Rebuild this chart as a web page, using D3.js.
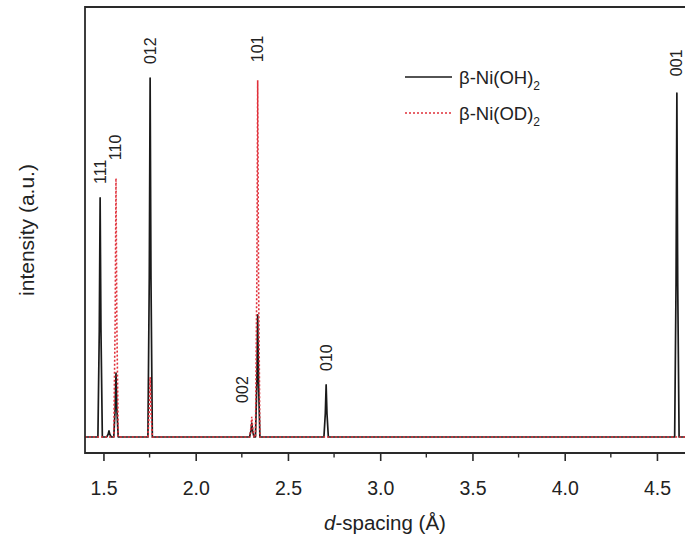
<!DOCTYPE html>
<html><head><meta charset="utf-8">
<script src="https://cdn.jsdelivr.net/npm/d3@7"></script>
<style>
body{margin:0;background:#fff;}
text{font-family:"Liberation Sans",Arial,sans-serif;fill:#222;}
</style></head>
<body><svg id="c" width="685" height="539"></svg>
<script>
// d-spacing (Å) of reflections and intensities (a.u.)
const hkl = ["111","110","012","002","101","010","001"];
const peakD = [1.482, 1.568, 1.753, 2.304, 2.336, 2.707, 4.608];
const ohIntensity = [66.6, 17.8, 100, 3.9, 34, 14.5, 95.8];
const odIntensity = [0, 72.1, 16.7, 5.6, 99.4, 0, 0];
const ohMinor = [[1.530, 1.7]];
const xTicks = [1.5, 2.0, 2.5, 3.0, 3.5, 4.0, 4.5];
const xMinor = [1.75, 2.25, 2.75, 3.25, 3.75, 4.25];
const labelPeakOf = ["oh","od","oh","od","od","oh","oh"];
const seriesNames = ["β-Ni(OH)", "β-Ni(OD)"];

const svg = d3.select("#c");
const L = 85, T = 7, B = 453;
const x = d3.scaleLinear().domain([1.4, 4.7]).range([L, L + 3.3 * 184.5]);
const y = d3.scaleLinear().domain([-4.46, 119.8]).range([B, T]);

const hw = 0.012;
function profile(peaks) {
  const pts = [[1.4, 0]];
  peaks.slice().sort((a, b) => a[0] - b[0]).forEach(([d, h]) => {
    if (h <= 0) return;
    pts.push([d - hw, 0], [d - 0.0045, h * 0.45], [d, h], [d + 0.0045, h * 0.45], [d + hw, 0]);
  });
  pts.push([4.7, 0]);
  return pts;
}
const ohPeaks = peakD.map((d, i) => [d, ohIntensity[i]]).concat(ohMinor);
const odPeaks = peakD.map((d, i) => [d, odIntensity[i]]);

svg.append("clipPath").attr("id", "pc").append("rect")
  .attr("x", L).attr("y", T).attr("width", 700 - L).attr("height", B - T);

const lg = d3.line().x(d => x(d[0])).y(d => y(d[1]));
const g = svg.append("g").attr("clip-path", "url(#pc)");
g.append("path").attr("d", lg(profile(ohPeaks))).attr("fill", "none")
  .attr("stroke", "#1a1a1a").attr("stroke-width", 1.7).attr("stroke-linejoin", "round");
g.append("path").attr("d", lg(profile(odPeaks))).attr("fill", "none")
  .attr("stroke", "#e0303a").attr("stroke-width", 1.6).attr("stroke-dasharray", "2,2");

// frame
svg.append("path").attr("d", `M700,${T}H${L}V${B}H700`).attr("fill", "none")
  .attr("stroke", "#2a2a2a").attr("stroke-width", 1.8);

// x axis
const ax = svg.append("g").attr("transform", `translate(0,${B})`)
  .call(d3.axisBottom(x).tickValues(xTicks).tickFormat(d3.format(".1f")).tickSize(8).tickSizeOuter(0));
ax.select(".domain").remove();
ax.selectAll(".tick line").attr("stroke", "#2a2a2a").attr("stroke-width", 1.6);
ax.selectAll(".tick text").attr("font-size", 19.5).attr("dy", "1.6em").style("font-family", "Liberation Sans,Arial,sans-serif").attr("fill", "#222");
svg.append("g").selectAll("line").data(xMinor).join("line")
  .attr("x1", d => x(d)).attr("x2", d => x(d)).attr("y1", B).attr("y2", B + 4.5)
  .attr("stroke", "#2a2a2a").attr("stroke-width", 1.4);

// axis titles
const xt = svg.append("text").attr("x", 385).attr("y", 530).attr("text-anchor", "middle").attr("font-size", 20.5);
xt.append("tspan").attr("font-style", "italic").text("d");
xt.append("tspan").text("-spacing (Å)");
svg.append("text").attr("transform", "translate(34,230) rotate(-90)").attr("text-anchor", "middle")
  .attr("font-size", 21).text("intensity (a.u.)");

// peak labels
hkl.forEach((lab, i) => {
  const h = labelPeakOf[i] === "oh" ? ohIntensity[i] : odIntensity[i];
  const top = y(h);
  const gap = lab === "110" || lab === "101" ? 18 : (lab === "001" ? 17 : 14);
  const dx = lab === "002" ? -9 : 0;
  svg.append("text").attr("transform", `translate(${x(peakD[i]) + 5.5 + dx},${top - gap}) rotate(-90)`)
    .attr("font-size", 16).attr("text-anchor", "start").text(lab);
});

// legend
const lgY = [77, 113], colors = ["#1a1a1a", "#e0303a"], dashes = [null, "2,2"];
seriesNames.forEach((n, i) => {
  svg.append("line").attr("x1", 405).attr("x2", 452).attr("y1", lgY[i]).attr("y2", lgY[i])
    .attr("stroke", colors[i]).attr("stroke-width", 1.6).attr("stroke-dasharray", dashes[i]);
  const t = svg.append("text").attr("x", 459).attr("y", lgY[i] + 7).attr("font-size", 18.5);
  t.append("tspan").text(n);
  t.append("tspan").attr("font-size", 12).attr("dy", 6).text("2");
});
</script></body></html>
